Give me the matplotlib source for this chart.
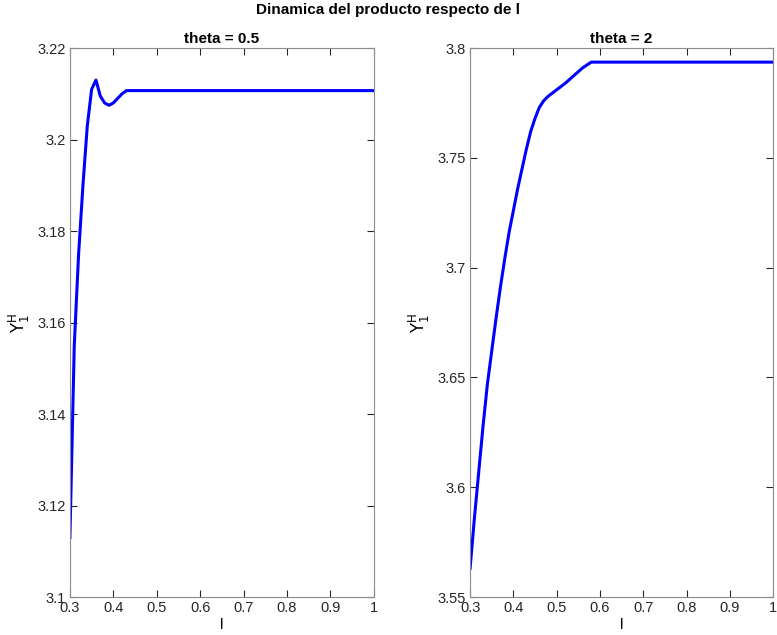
import matplotlib
matplotlib.use("Agg")
import matplotlib.pyplot as plt
from matplotlib.ticker import FuncFormatter

plt.rcParams['font.family'] = ['Liberation Sans', 'DejaVu Sans']

# theta = 0.5
l_a = [0.30, 0.31, 0.32, 0.33, 0.34, 0.35, 0.36, 0.37, 0.38, 0.39, 0.40, 0.41, 0.42, 0.43, 1.00]
y_a = [3.113, 3.155, 3.175, 3.190, 3.203, 3.211, 3.213, 3.2095, 3.208, 3.2075, 3.208, 3.209, 3.210, 3.2107, 3.2107]

# theta = 2
l_b = [0.30, 0.31, 0.32, 0.33, 0.34, 0.35, 0.36, 0.37, 0.38, 0.39, 0.40, 0.41, 0.42, 0.43, 0.44,
       0.45, 0.46, 0.47, 0.48, 0.50, 0.52, 0.54, 0.56, 0.58, 1.00]
y_b = [3.563, 3.586, 3.607, 3.628, 3.647, 3.662, 3.677, 3.691, 3.704, 3.716, 3.726, 3.736, 3.745,
       3.754, 3.762, 3.768, 3.773, 3.776, 3.778, 3.781, 3.784, 3.7875, 3.791, 3.7936, 3.7936]

x_ticks = [0.3, 0.4, 0.5, 0.6, 0.7, 0.8, 0.9, 1.0]
y_ticks_a = [3.1, 3.12, 3.14, 3.16, 3.18, 3.2, 3.22]
y_ticks_b = [3.55, 3.6, 3.65, 3.7, 3.75, 3.8]

titles = ["theta = 0.5", "theta = 2"]

fig = plt.figure(figsize=(7.77, 6.35), dpi=100)
axA = fig.add_axes([0.090, 0.0598, 0.391, 0.8645])
axB = fig.add_axes([0.605, 0.0598, 0.390, 0.8645])

def fmt(v, pos):
    s = ('%.2f' % v).rstrip('0').rstrip('.')
    return s

for ax, xs, ys, yt, title in [(axA, l_a, y_a, y_ticks_a, titles[0]),
                              (axB, l_b, y_b, y_ticks_b, titles[1])]:
    ax.plot(xs, ys, color=(0, 0, 1), linewidth=2.2, solid_joinstyle='round')
    ax.set_xlim(0.3, 1.0)
    ax.set_ylim(yt[0], yt[-1])
    ax.set_xticks(x_ticks)
    ax.set_yticks(yt)
    ax.xaxis.set_major_formatter(FuncFormatter(fmt))
    ax.yaxis.set_major_formatter(FuncFormatter(fmt))
    ax.tick_params(direction='in', top=True, right=True, length=5, width=0.8,
                   colors='#262626', labelsize=10.5, pad=3)
    for sp in ax.spines.values():
        sp.set_color('#8c8c8c')
        sp.set_linewidth(0.8)
    ax.set_title(title, fontsize=11, fontweight='bold', pad=4)
    ax.set_xlabel('l', fontsize=11, labelpad=2)
    ax.set_ylabel(r'$\mathrm{Y}_1^\mathrm{H}$', fontsize=12, labelpad=4)

fig.suptitle('Dinamica del producto respecto de l', fontsize=11, fontweight='bold', y=0.995)
fig.savefig('out.png', dpi=100)
